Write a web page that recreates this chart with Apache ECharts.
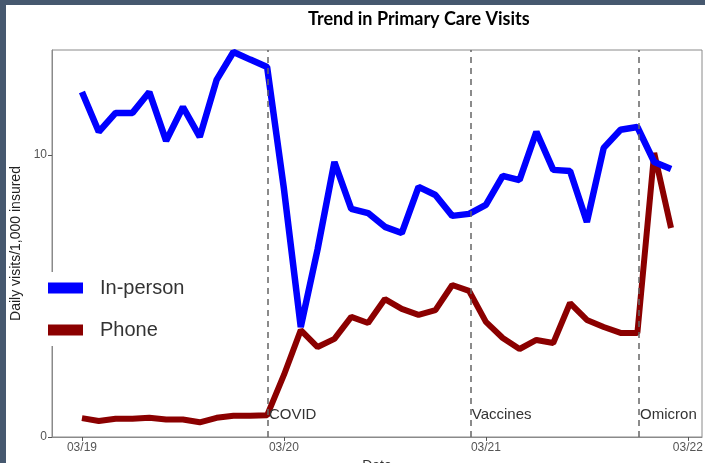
<!DOCTYPE html>
<html>
<head>
<meta charset="utf-8">
<script src="https://cdn.jsdelivr.net/npm/echarts@6/dist/echarts.min.js"></script>
<style>
  html, body { margin: 0; padding: 0; background: #fff; }
  #wrap { position: relative; width: 705px; height: 463px; overflow: hidden; }
  #chart { position: absolute; left: 0; top: 0; width: 705px; height: 463px; }
  .frameL { position: absolute; left: 0; top: 0; width: 6px; height: 463px; background: #46586f; }
  .frameT { position: absolute; left: 0; top: 0; width: 705px; height: 5px; background: #46586f; }
</style>
</head>
<body>
<div id="wrap">
  <div id="chart"></div>
  <div class="frameL"></div>
  <div class="frameT"></div>
</div>
<script>
// Month index: 0 = March 2019
const months = Array.from({length: 36}, (_, i) => i);
const inPerson = [12.23, 10.82, 11.49, 11.49, 12.23, 10.50, 11.70, 10.64, 12.66, 13.65, 13.38, 13.12,
                  8.80, 3.90, 6.65, 9.75, 8.09, 7.94, 7.45, 7.23, 8.87, 8.58, 7.84, 7.91,
                  8.23, 9.26, 9.11, 10.82, 9.47, 9.43, 7.62, 10.25, 10.89, 10.99, 9.75, 9.50];
const phone = [0.67, 0.57, 0.65, 0.65, 0.68, 0.62, 0.62, 0.52, 0.68, 0.75, 0.75, 0.77,
               2.20, 3.79, 3.19, 3.48, 4.26, 4.04, 4.89, 4.54, 4.33, 4.50, 5.39, 5.18,
               4.08, 3.51, 3.12, 3.44, 3.33, 4.75, 4.15, 3.90, 3.69, 3.69, 10.07, 7.41];
const tickPositions = [0, 12, 24, 36];
const tickLabels = ['03/19', '03/20', '03/21', '03/22'];
const events = [
  {name: 'COVID', x: 11.05},
  {name: 'Vaccines', x: 23.1},
  {name: 'Omicron', x: 33.1}
];
const eventLabelY = 0.78;

const chart = echarts.init(document.getElementById('chart'), null, {renderer: 'canvas'});
const font = 'Liberation Sans';
chart.setOption({
  animation: false,
  backgroundColor: '#fff',
  title: {
    text: 'Trend in Primary Care Visits',
    left: 303, top: 5,
    textStyle: {fontFamily: 'Lato', fontWeight: 'bold', fontSize: 18, color: '#000'}
  },
  grid: {left: 52, right: 3, top: 50, bottom: 26, outerBoundsMode: 'none', containLabel: false,
         show: true, borderColor: '#8a8a8a', borderWidth: 1, backgroundColor: 'transparent'},
  legend: {
    left: 45, top: 272,
    orient: 'vertical',
    backgroundColor: '#fff',
    padding: [6, 10, 6, 3],
    itemGap: 22,
    itemWidth: 35, itemHeight: 11,
    icon: 'rect',
    textStyle: {fontFamily: font, fontSize: 20, color: '#333', padding: [0, 0, 0, 12]},
    data: ['In-person', 'Phone']
  },
  xAxis: {
    type: 'value',
    min: -1.78, max: 36.84,
    name: 'Date', nameLocation: 'middle', nameGap: 22,
    nameTextStyle: {fontFamily: font, fontSize: 14, color: '#333'},
    axisLine: {show: true, onZero: false, lineStyle: {color: '#8a8a8a'}},
    axisTick: {show: true, length: 4, lineStyle: {color: '#555'}, customValues: tickPositions},
    axisLabel: {
      fontFamily: font, fontSize: 12, color: '#555', margin: 5,
      customValues: tickPositions,
      formatter: v => tickLabels[tickPositions.indexOf(v)]
    },
    splitLine: {show: false}
  },
  yAxis: {
    type: 'value',
    min: 0, max: 13.72,
    name: 'Daily visits/1,000 insured', nameLocation: 'middle', nameGap: 26,
    nameTextStyle: {fontFamily: font, fontSize: 14, color: '#222'},
    axisLine: {show: true, onZero: false, lineStyle: {color: '#8a8a8a'}},
    axisTick: {show: true, length: 4, lineStyle: {color: '#555'}, customValues: [0, 10]},
    axisLabel: {fontFamily: font, fontSize: 12, color: '#555', margin: 5, customValues: [0, 10]},
    splitLine: {show: false}
  },
  series: [
    {
      name: 'In-person', type: 'line',
      data: months.map((m, i) => [m, inPerson[i]]),
      showSymbol: false, symbol: 'none',
      lineStyle: {color: '#0000ff', width: 6.5},
      itemStyle: {color: '#0000ff'},
      z: 3,
      markLine: {
        silent: true, symbol: 'none',
        lineStyle: {color: '#666', type: [6, 5], width: 1.5},
        label: {show: false},
        data: events.map(e => ({xAxis: e.x}))
      }
    },
    {
      name: 'Phone', type: 'line',
      data: months.map((m, i) => [m, phone[i]]),
      showSymbol: false, symbol: 'none',
      lineStyle: {color: '#8b0000', width: 6},
      itemStyle: {color: '#8b0000'},
      z: 2,
      markPoint: {
        silent: true, symbol: 'circle', symbolSize: 0,
        label: {
          show: true, position: 'right', distance: 1,
          fontFamily: font, fontSize: 15, color: '#333',
          formatter: p => p.name
        },
        data: events.map(e => ({name: e.name, coord: [e.x, eventLabelY]}))
      }
    }
  ]
});
</script>
</body>
</html>
